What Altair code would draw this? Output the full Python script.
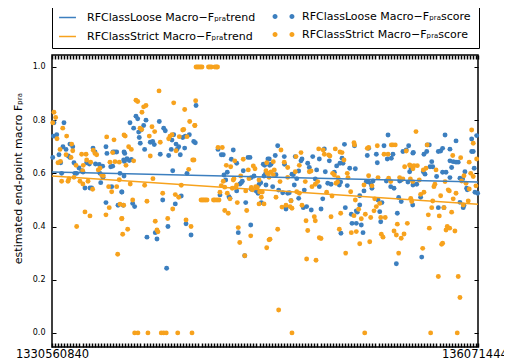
import altair as alt
import pandas as pd

T0 = 1330560840
T1 = 1360714440
DAY = 86400

# (day offset from T0, macro-F score)
loose_points = [
    (1.6,0.79),(9.8,0.79),(2.5,0.74),(3.9,0.745),(1.1,0.74),(14.7,0.71),(17.0,0.70),(9.0,0.70),(11.5,0.69),(5.7,0.67),
    (14.7,0.66),(13.4,0.665),(0.6,0.66),(7.1,0.64),(18.0,0.64),(22.1,0.62),(24.3,0.61),(25.4,0.605),(20.2,0.60),(18.8,0.60),
    (7.9,0.60),(27.0,0.545),(31.1,0.545),(32.5,0.545),(33.6,0.695),(35.2,0.68),(28.4,0.64),(30.6,0.635),(35.6,0.635),(38.7,0.633),
    (41.5,0.627),(39.3,0.60),(41.8,0.585),(39.9,0.565),(48.9,0.55),(44.2,0.70),(45.0,0.675),(50.0,0.68),(51.4,0.68),(53.0,0.68),
    (48.1,0.625),(49.7,0.627),(55.7,0.60),(59.0,0.59),(59.0,0.68),(59.3,0.645),(44.2,0.49),(54.1,0.48),(57.1,0.53),(58.4,0.48),
    (118.0,0.855),(68.8,0.815),(70.2,0.805),(63.9,0.79),(77.0,0.80),(75.1,0.78),(87.9,0.795),(66.9,0.77),(71.0,0.755),(72.9,0.763),
    (91.5,0.77),(92.8,0.76),(71.5,0.735),(99.7,0.745),(98.3,0.725),(101.6,0.71),(103.8,0.70),(107.1,0.735),(109.2,0.74),(112.5,0.745),
    (116.1,0.72),(117.4,0.715),(72.3,0.713),(80.5,0.717),(82.5,0.72),(83.8,0.708),(88.7,0.672),(95.6,0.667),(97.7,0.69),(102.4,0.69),
    (105.1,0.67),(108.7,0.695),(75.9,0.69),(59.6,0.675),(58.7,0.65),(61.4,0.655),(63.3,0.648),(65.0,0.652),(98.9,0.61),(110.6,0.60),
    (57.3,0.53),(105.9,0.515),(66.1,0.487),(67.7,0.475),(90.7,0.50),(101.0,0.485),(109.8,0.41),(95.0,0.40),(84.6,0.377),(86.0,0.353),
    (77.8,0.36),(113.9,0.368),(93.9,0.243),
    (136.0,0.69),(138.7,0.67),(140.3,0.67),(148.5,0.688),(146.9,0.653),(151.3,0.638),(160.6,0.66),(162.2,0.66),(156.7,0.61),(163.3,0.584),
    (165.5,0.59),(173.1,0.634),(174.2,0.63),(176.9,0.654),(143.6,0.604),(140.9,0.594),(142.3,0.575),(154.0,0.56),(155.1,0.565),(155.9,0.57),
    (151.3,0.534),(145.0,0.512),(145.8,0.506),(137.6,0.519),(163.3,0.54),(166.9,0.535),(168.8,0.525),(169.6,0.558),(171.0,0.565),(173.7,0.59),
    (175.1,0.60),(171.5,0.49),(158.7,0.49),(162.8,0.406),(152.6,0.377),(157.9,0.29),
    (184.9,0.704),(182.9,0.667),(178.0,0.654),(179.4,0.634),(178.3,0.63),(190.3,0.663),(190.5,0.634),(176.7,0.60),(183.5,0.595),(196.6,0.597),
    (197.7,0.595),(175.3,0.556),(180.8,0.55),(185.7,0.537),(189.0,0.527),(193.1,0.525),(194.4,0.527),(199.3,0.663),(204.0,0.647),(204.8,0.654),
    (202.1,0.609),(200.5,0.58),(198.5,0.556),(195.8,0.497),(191.7,0.466),(202.1,0.506),(205.9,0.471),(208.6,0.475),(212.4,0.462),(206.7,0.537),
    (209.5,0.638),(210.8,0.622),(213.6,0.663),(215.7,0.579),(219.0,0.654),(216.8,0.613),(219.0,0.55),(221.8,0.504),(220.4,0.466),(223.1,0.692),
    (227.2,0.647),(223.9,0.606),(225.9,0.563),(228.6,0.559),(231.3,0.604),(233.2,0.628),(235.4,0.556),(235.9,0.638),(236.7,0.375),
    (275.3,0.744),(239.6,0.709),(247.8,0.704),(259.4,0.694),(272.0,0.704),(274.7,0.654),(278.0,0.657),(279.3,0.672),(292.2,0.704),(287.5,0.682),
    (290.2,0.688),(295.7,0.676),(237.6,0.657),(238.4,0.638),(258.3,0.667),(265.7,0.672),(266.5,0.64),(243.9,0.619),(248.5,0.617),(234.3,0.569),
    (236.5,0.567),(257.5,0.569),(259.4,0.567),(261.6,0.556),(263.0,0.571),(273.9,0.571),(277.5,0.55),(280.2,0.544),(284.8,0.571),(286.1,0.575),
    (291.6,0.567),(293.0,0.606),(294.3,0.619),(295.7,0.556),(241.9,0.554),(262.1,0.544),(255.6,0.534),(252.1,0.516),(240.3,0.471),(245.2,0.446),
    (249.3,0.459),(250.1,0.454),(267.1,0.50),(270.3,0.49),(268.5,0.456),(269.3,0.418),(252.1,0.481),(245.8,0.412),(249.3,0.412),(253.4,0.406),
    (254.8,0.377),(284.0,0.509),(286.1,0.494),(282.9,0.45),(282.1,0.26),
    (322.0,0.744),(331.0,0.722),(307.4,0.707),(309.1,0.707),(307.0,0.682),(296.0,0.679),(304.7,0.672),(320.0,0.694),(318.4,0.684),(316.5,0.682),
    (326.0,0.691),(328.7,0.644),(331.0,0.642),(332.8,0.642),(327.4,0.622),(326.0,0.647),(343.8,0.682),(345.1,0.682),(343.8,0.729),(347.9,0.742),
    (311.1,0.644),(311.9,0.625),(309.7,0.625),(304.2,0.606),(305.6,0.597),(320.0,0.604),(322.8,0.604),(326.0,0.584),(315.1,0.588),(298.8,0.559),
    (295.5,0.625),(334.2,0.582),(336.4,0.579),(338.3,0.606),(339.7,0.544),(340.2,0.538),(346.5,0.529),(345.9,0.619),(295.5,0.481),(302.0,0.51),
    (316.5,0.471),(321.1,0.471),(334.2,0.491),(336.9,0.471),(337.5,0.479),(302.9,0.285),(348.7,0.525),
]

strict_points = [
    (1.6,0.83),(3.0,0.81),(0.6,0.79),(8.8,0.77),(12.0,0.74),(4.1,0.73),(16.1,0.71),(6.6,0.69),(17.0,0.685),(11.5,0.67),
    (15.6,0.66),(6.9,0.645),(4.9,0.64),(19.7,0.63),(25.6,0.63),(25.1,0.61),(13.9,0.58),(18.0,0.585),(7.9,0.57),(13.1,0.57),
    (22.9,0.57),(25.3,0.56),(29.5,0.57),(33.3,0.54),(27.0,0.455),(31.1,0.44),(20.2,0.40),(33.8,0.687),(35.2,0.675),(36.6,0.67),
    (24.3,0.672),(27.9,0.672),(28.4,0.65),(31.7,0.642),(37.9,0.613),(39.3,0.619),(40.7,0.594),(42.0,0.591),(46.4,0.55),(48.9,0.531),
    (53.0,0.55),(44.8,0.737),(50.8,0.726),(59.0,0.744),(49.7,0.678),(47.5,0.642),(51.6,0.644),(55.1,0.642),(55.1,0.576),(46.9,0.471),
    (44.2,0.444),(55.7,0.484),(57.1,0.429),(57.9,0.371),(53.8,0.296),
    (87.7,0.91),(68.8,0.875),(70.2,0.87),(75.1,0.85),(77.0,0.855),(73.7,0.83),(99.7,0.865),(108.7,0.84),(112.8,0.795),(116.9,0.78),
    (72.1,0.77),(73.5,0.765),(81.9,0.775),(84.1,0.757),(107.1,0.763),(107.9,0.765),(60.0,0.74),(79.7,0.74),(96.7,0.74),(98.3,0.745),
    (95.6,0.73),(104.3,0.738),(110.6,0.738),(88.7,0.717),(62.8,0.70),(65.0,0.69),(101.6,0.685),(80.5,0.665),(66.9,0.647),(60.6,0.63),
    (115.3,0.65),(112.0,0.615),(82.7,0.58),(64.1,0.56),(75.9,0.555),(105.9,0.555),(90.7,0.525),(101.0,0.52),(103.8,0.51),(66.1,0.50),
    (77.8,0.495),(58.7,0.48),(98.9,0.466),(57.3,0.43),(94.8,0.43),(109.8,0.425),(84.6,0.42),(113.9,0.40),(62.0,0.39),(86.0,0.387),
    (86.8,0.38),
    (67.7,0.0),(70.4,0.0),(78.6,0.0),(89.5,0.0),(91.5,0.0),(93.6,0.0),(103.0,0.0),(114.7,0.0),
    (118.0,1.0),(119.2,1.0),(120.4,1.0),(121.7,1.0),(122.9,1.0),(128.2,1.0),(129.4,1.0),(130.6,1.0),(133.5,1.0),(134.7,1.0),(135.6,1.0),
    (122.1,0.5),(123.3,0.5),(124.5,0.5),(125.7,0.5),(127.0,0.5),(132.3,0.5),(133.5,0.5),(135.2,0.5),(136.8,0.5),
    (117.7,0.873),(117.1,0.78),(116.3,0.65),(136.0,0.697),(139.5,0.697),(142.8,0.63),(146.4,0.625),(149.7,0.647),(156.7,0.653),(160.8,0.613),
    (164.9,0.628),(166.3,0.617),(140.3,0.57),(138.7,0.554),(149.1,0.58),(148.5,0.575),(151.3,0.556),(154.6,0.59),(161.4,0.58),(141.5,0.548),
    (143.6,0.525),(145.8,0.504),(137.6,0.529),(147.7,0.544),(150.5,0.547),(158.7,0.534),(163.3,0.547),(164.1,0.538),(166.9,0.55),(168.2,0.547),
    (170.1,0.53),(172.3,0.53),(169.6,0.575),(176.4,0.60),(177.8,0.585),(175.9,0.64),(171.5,0.51),(173.7,0.485),(169.6,0.485),(151.8,0.49),
    (141.5,0.46),(144.4,0.45),(159.5,0.46),(152.6,0.396),(162.8,0.365),(153.8,0.34),(175.9,0.32),(177.8,0.35),(157.9,0.29),
    (187.6,0.688),(181.3,0.644),(182.1,0.613),(190.3,0.642),(193.1,0.622),(175.3,0.61),(177.5,0.60),(179.4,0.605),(181.3,0.595),(186.8,0.569),
    (183.5,0.51),(193.1,0.585),(199.3,0.606),(202.6,0.63),(199.9,0.663),(204.0,0.678),(195.8,0.497),(191.7,0.48),(195.0,0.475),(196.6,0.469),
    (188.4,0.473),(200.5,0.531),(202.6,0.525),(204.8,0.48),(207.5,0.569),(210.8,0.606),(212.2,0.609),(213.0,0.55),(215.7,0.559),(217.7,0.569),
    (218.5,0.692),(222.2,0.688),(223.1,0.672),(226.7,0.669),(227.7,0.665),(229.9,0.60),(231.3,0.594),(232.7,0.563),(234.0,0.567),(225.0,0.529),
    (228.6,0.437),(229.4,0.515),(232.1,0.692),(235.9,0.68),(208.1,0.422),(209.5,0.385),(214.9,0.437),(215.7,0.422),(184.9,0.39),(178.6,0.352),
    (219.0,0.358),(220.4,0.355),(208.6,0.278),(216.3,0.273),(235.4,0.39),(185.7,0.086),(196.6,0.0),(240.6,0.30),
    (247.4,0.715),(247.8,0.707),(258.3,0.694),(259.4,0.697),(266.5,0.704),(272.0,0.672),(275.3,0.672),(278.0,0.707),(279.3,0.707),(281.2,0.707),
    (290.2,0.684),(237.6,0.678),(239.2,0.65),(241.9,0.60),(234.3,0.584),(242.5,0.584),(259.4,0.591),(267.1,0.584),(275.8,0.582),(277.5,0.569),
    (284.8,0.584),(287.5,0.579),(288.9,0.625),(293.0,0.632),(295.7,0.617),(255.6,0.556),(262.1,0.553),(244.7,0.531),(248.5,0.50),(236.5,0.45),
    (251.2,0.465),(247.4,0.441),(253.4,0.429),(256.7,0.446),(261.1,0.434),(264.4,0.504),(265.7,0.475),(268.5,0.487),(263.8,0.459),(269.3,0.434),
    (273.0,0.434),(245.2,0.377),(249.3,0.381),(252.1,0.335),(260.3,0.343),(269.8,0.371),(271.2,0.36),(280.2,0.383),(282.1,0.368),(286.1,0.356),
    (288.4,0.372),(282.9,0.409),(291.1,0.412),(284.0,0.30),(256.2,0.0),
    (298.2,0.757),(343.8,0.763),(345.1,0.713),(341.8,0.642),(345.1,0.588),(347.3,0.553),(347.9,0.654),(307.4,0.707),(328.3,0.667),(334.8,0.659),
    (304.2,0.613),(306.4,0.619),(314.6,0.613),(312.9,0.55),(313.7,0.559),(337.5,0.591),(343.0,0.60),(293.3,0.629),(296.5,0.629),(299.3,0.629),
    (300.9,0.575),(293.6,0.579),(295.5,0.569),(322.0,0.569),(325.5,0.534),(328.7,0.504),(331.0,0.525),(335.6,0.571),(339.2,0.563),(341.8,0.541),
    (293.9,0.506),(294.7,0.494),(304.7,0.529),(302.0,0.521),(311.9,0.496),(318.4,0.516),(324.6,0.538),(311.1,0.471),(308.3,0.444),(317.3,0.44),
    (321.1,0.471),(327.4,0.454),(336.9,0.481),(341.0,0.496),(309.1,0.394),(323.8,0.40),(322.8,0.387),(325.8,0.394),(330.1,0.383),(319.2,0.333),
    (320.0,0.337),(303.7,0.318),(316.5,0.212),(332.8,0.212),(334.2,0.133),(310.2,0.0),(332.0,0.0),
]

trend_days = [0, 349]
loose_trend = [0.605, 0.567]
strict_trend = [0.590, 0.484]

SUB = "F\u209a\u1d63\u2090"
trend_names = [f"RFClassLoose Macro\u2212{SUB}trend", f"RFClassStrict Macro\u2212{SUB}trend"]
score_names = [f"RFClassLoose Macro\u2212{SUB}score", f"RFClassStrict Macro\u2212{SUB}score"]
palette = ["#3c7fbf", "#f7a21d"]
y_ticks = [0.0, 0.2, 0.4, 0.6, 0.8, 1.0]
y_title = f"estimated end-point macro {SUB}"

loose_df = pd.DataFrame({"t": [T0 + d * DAY for d, s in loose_points],
                         "v": [s for d, s in loose_points], "score_series": score_names[0]})
strict_df = pd.DataFrame({"t": [T0 + d * DAY for d, s in strict_points],
                          "v": [s for d, s in strict_points], "score_series": score_names[1]})
trend_df = pd.concat([
    pd.DataFrame({"t": [T0 + d * DAY for d in trend_days], "v": loose_trend, "trend_series": trend_names[0]}),
    pd.DataFrame({"t": [T0 + d * DAY for d in trend_days], "v": strict_trend, "trend_series": trend_names[1]}),
])

x_ticks = list(range(T0, T1, 216000)) + [T1]

xs = alt.Scale(domain=[T0, T1], nice=False, zero=False)
ys = alt.Scale(domain=[-0.053, 1.045], nice=False, zero=False)

# the score legend carries the frame; its entries are pushed right with symbolOffset,
# and the (unframed) trend legend sits in the left half of that frame
trend_legend = alt.Legend(
    title=None, orient="none", legendX=0, legendY=-53, direction="vertical",
    symbolType="M-1.3,0L1.3,0", symbolSize=169, symbolStrokeWidth=1.5,
    labelFont="DejaVu Sans", labelFontSize=11, labelColor="black",
    labelOffset=12, rowPadding=6, padding=8, labelLimit=600, zindex=2,
)
score_legend = alt.Legend(
    title=None, orient="none", legendX=0, legendY=-53, direction="vertical",
    symbolType=("M-1.685,0A0.385,0.385,0,1,1,-0.915,0A0.385,0.385,0,1,1,-1.685,0Z"
                "M0.915,0A0.385,0.385,0,1,1,1.685,0A0.385,0.385,0,1,1,0.915,0Z"),
    symbolSize=169, symbolStrokeWidth=0, symbolOpacity=1, symbolOffset=217,
    labelFont="DejaVu Sans", labelFontSize=11, labelColor="black",
    labelOffset=12, rowPadding=6, padding=8, labelLimit=600,
    strokeColor="black", fillColor="white", cornerRadius=0, zindex=1,
)

x_bottom = alt.Axis(orient="bottom", values=x_ticks, offset=-4, tickSize=4, tickWidth=1.5,
                    tickColor="black", domain=False, grid=False, title=None,
                    labelExpr=f"datum.value == {T0} || datum.value == {T1} ? format(datum.value, 'd') : ''",
                    labelOverlap=False, labelFlush=False, labelBound=False, labelPadding=1,
                    labelFont="DejaVu Sans", labelFontSize=11.5, labelColor="black")
x_top = alt.Axis(orient="top", values=x_ticks, offset=-4, tickSize=4, tickWidth=1.5,
                 tickColor="black", domain=False, grid=False, title=None, labels=False)
y_left = alt.Axis(orient="left", values=y_ticks, format=".1f", offset=-4, tickSize=4,
                  tickColor="black", domain=False, grid=False, labelPadding=7,
                  labelFont="DejaVu Sans", labelFontSize=8, labelColor="black",
                  title=y_title, titleFont="DejaVu Sans", titleFontSize=11,
                  titleFontWeight="normal", titleColor="black", titleAngle=270,
                  titleX=-38, titleY=123, titleAlign="center", titleBaseline="middle")
y_right = alt.Axis(orient="right", values=y_ticks, offset=-4, tickSize=4, tickColor="black",
                   domain=False, grid=False, labels=False, title=None)

fill = alt.Fill("score_series:N", scale=alt.Scale(domain=score_names, range=palette),
                legend=score_legend)

blue = alt.Chart(loose_df).mark_circle(size=24, opacity=1).encode(
    x=alt.X("t:Q", scale=xs, axis=x_bottom),
    y=alt.Y("v:Q", scale=ys, axis=y_left),
    fill=fill,
)
orange = alt.Chart(strict_df).mark_circle(size=24, opacity=1).encode(
    x=alt.X("t:Q", scale=xs, axis=x_top),
    y=alt.Y("v:Q", scale=ys, axis=y_right),
    fill=fill,
)
lines = alt.Chart(trend_df).mark_line(strokeWidth=1.5).encode(
    x=alt.X("t:Q", scale=xs, axis=None),
    y=alt.Y("v:Q", scale=ys, axis=None),
    color=alt.Color("trend_series:N", scale=alt.Scale(domain=trend_names, range=palette),
                    legend=trend_legend),
)

chart = alt.layer(blue, orange, lines).resolve_axis(
    x="independent", y="independent"
).properties(
    width=426, height=292,
    autosize=alt.AutoSizeParams(type="none"),
    padding={"left": 44, "top": 47, "right": 26, "bottom": 14},
    background="white",
).configure_view(stroke="black", strokeWidth=1.5)

chart.save("out.html", embed_options={"renderer": "svg", "actions": False})
